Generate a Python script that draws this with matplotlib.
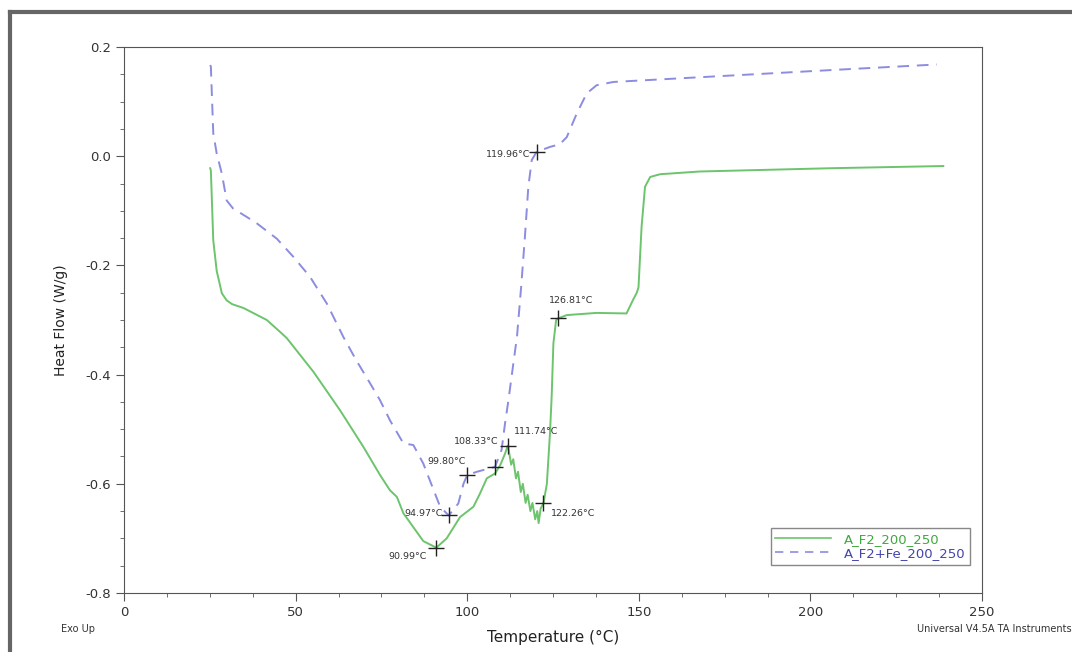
import matplotlib
matplotlib.use('Agg')
import matplotlib.pyplot as plt
from matplotlib.lines import Line2D
from matplotlib.ticker import MultipleLocator, FormatStrFormatter

# ── Data ─────────────────────────────────────────────────────────────────────

f2_temp = [25.1, 25.3, 26.0, 27.0, 28.5, 29.9, 31.5, 34.8, 41.6, 45.5, 47.4, 55.2,
           62.9, 69.7, 74.6, 77.5, 79.5, 81.4, 87.2, 91.0, 94.0, 97.9, 101.8, 103.7,
           105.7, 108.1, 109.6, 111.0, 111.8,
           112.0, 112.8, 113.4, 114.2, 114.8, 115.6, 116.2, 117.0, 117.6, 118.4,
           119.0, 119.8, 120.4, 120.8, 121.4, 122.2, 123.2, 124.1, 124.6, 125.1,
           125.9, 126.5, 129.0, 137.7, 146.4, 148.4, 149.4, 149.9, 150.8, 151.8,
           153.3, 156.2, 167.8, 206.0, 238.7]
f2_flow = [-0.022, -0.026, -0.154, -0.210, -0.251, -0.264, -0.271, -0.278, -0.300,
           -0.322, -0.333, -0.395, -0.465, -0.532, -0.584, -0.612, -0.624, -0.654,
           -0.705, -0.717, -0.700, -0.661, -0.642, -0.618, -0.590, -0.581, -0.566,
           -0.545, -0.530,
           -0.535, -0.565, -0.555, -0.590, -0.578, -0.615, -0.600, -0.635, -0.620,
           -0.650, -0.635, -0.665, -0.650, -0.672, -0.645, -0.636, -0.600, -0.508,
           -0.440, -0.343, -0.300, -0.297, -0.291, -0.287, -0.288, -0.262, -0.250,
           -0.240, -0.129, -0.056, -0.038, -0.033, -0.028, -0.022, -0.018]

fe_temp = [25.1, 25.3, 26.0, 27.0, 28.5, 29.9, 31.8, 35.7, 38.7, 44.5, 49.3, 54.2,
           59.1, 63.9, 67.5, 71.7, 74.6, 77.5, 81.4, 84.3, 87.2, 92.1, 94.6, 97.4,
           98.9, 100.0, 102.8, 108.1, 110.0, 111.0, 112.0, 113.0, 114.5, 115.7,
           116.8, 117.8, 118.8, 120.2, 124.1, 127.0, 129.0, 131.9, 134.8, 137.7,
           142.6, 177.5, 206.7, 236.8]
fe_flow = [0.167, 0.164, 0.042, 0.005, -0.032, -0.081, -0.096, -0.111, -0.123,
           -0.151, -0.184, -0.221, -0.270, -0.331, -0.372, -0.416, -0.447, -0.484,
           -0.526, -0.529, -0.563, -0.642, -0.658, -0.636, -0.600, -0.584, -0.578,
           -0.569, -0.538, -0.490, -0.447, -0.400, -0.330, -0.240, -0.148, -0.056,
           -0.007, 0.008, 0.017, 0.022, 0.035, 0.078, 0.115, 0.130, 0.136, 0.148,
           0.158, 0.168]

# marked points: (temp, flow) and label positions
mark_temp = [91.0, 122.2, 111.8, 126.5, 94.6, 100.0, 108.1, 120.2]
mark_flow = [-0.717, -0.636, -0.530, -0.297, -0.658, -0.584, -0.569, 0.008]
mark_text = ['90.99°C', '122.26°C', '111.74°C', '126.81°C',
             '94.97°C', '99.80°C', '108.33°C', '119.96°C']
text_temp = [82.7, 130.9, 120.2, 130.4, 87.2, 94.0, 102.7, 112.0]
text_flow = [-0.733, -0.655, -0.505, -0.265, -0.655, -0.560, -0.523, 0.004]

series_names = ['A_F2_200_250', 'A_F2+Fe_200_250']

GREEN = '#6cc46c'
BLUE = '#8c8ce0'
GRAY = '#555555'

# ── Plot ─────────────────────────────────────────────────────────────────────

fig = plt.figure(figsize=(10.72, 6.52), dpi=100)
ax = fig.add_axes([0.1157, 0.0905, 0.8004, 0.8374])

ax.plot(f2_temp, f2_flow, color=GREEN, lw=1.4)
ax.plot(fe_temp, fe_flow, color=BLUE, lw=1.4, dashes=(6, 4))

ax.plot(mark_temp, mark_flow, ls='none', marker='+', ms=12, mew=1.0, color='#222222')
for tx, ty, s in zip(text_temp, text_flow, mark_text):
    ax.text(tx, ty, s, fontsize=6.8, color='#333333', ha='center', va='center')

ax.set_xlim(0, 250)
ax.set_ylim(-0.8, 0.2)
ax.xaxis.set_major_locator(MultipleLocator(50))
ax.xaxis.set_minor_locator(MultipleLocator(12.5))
ax.yaxis.set_major_locator(MultipleLocator(0.2))
ax.yaxis.set_minor_locator(MultipleLocator(0.05))
ax.yaxis.set_major_formatter(FormatStrFormatter('%.1f'))
ax.tick_params(which='both', direction='out', color=GRAY, labelsize=9.5,
               labelcolor='#333333')
ax.tick_params(which='major', length=6)
ax.tick_params(which='minor', length=3)
for sp in ax.spines.values():
    sp.set_color(GRAY)

ax.set_ylabel('Heat Flow (W/g)', fontsize=10, color='#222222', labelpad=12)
ax.set_xlabel('Temperature (°C)', fontsize=11, color='#222222', labelpad=8)

handles = [Line2D([], [], color=GREEN, lw=1.2),
           Line2D([], [], color=BLUE, lw=1.2, dashes=(5, 4))]
leg = ax.legend(handles, series_names, loc='lower right',
                bbox_to_anchor=(0.994, 0.04), fontsize=9.5, handlelength=4.2,
                fancybox=False, framealpha=1, edgecolor='#888888',
                borderpad=0.35, labelspacing=0.1, handletextpad=1.0)
leg.get_texts()[0].set_color('#3fa83f')
leg.get_texts()[1].set_color('#4444aa')

fig.text(0.073, 0.030, 'Exo Up', fontsize=7, color='#333333', ha='center')
fig.text(1.0, 0.030, 'Universal V4.5A TA Instruments', fontsize=7,
         color='#333333', ha='right')

# outer frame (top and left only, rest cropped)
fig.add_artist(Line2D([0.0095, 0.0095], [0.0, 0.982], color='#666666', lw=3,
                      transform=fig.transFigure))
fig.add_artist(Line2D([0.0095, 1.0], [0.982, 0.982], color='#666666', lw=3,
                      transform=fig.transFigure))

fig.savefig('out.png', dpi=100)
